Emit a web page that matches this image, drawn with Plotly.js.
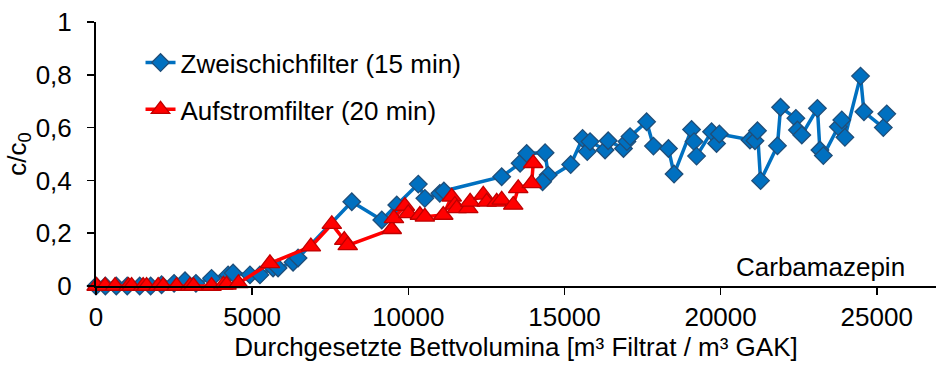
<!DOCTYPE html>
<html>
<head>
<meta charset="utf-8">
<script src="https://cdn.plot.ly/plotly-3.0.1.min.js"></script>
<style>html,body{margin:0;padding:0;background:#fff;}#chart{width:936px;height:368px;}</style>
</head>
<body>
<div id="chart"></div>
<script>
// Zweischichfilter (15 min)
const zweiX = [0, 300, 650, 1000, 1400, 1750, 2100, 2500, 2850, 3200, 3700, 4230, 4390, 4930, 5250, 5670, 5830, 6310, 6470, 8190, 9150, 9630, 10320, 10530, 11010, 11140, 12990, 13580, 13790, 14380, 14480, 14300, 15200, 15580, 15730, 15820, 16300, 16400, 16890, 17000, 17100, 17630, 17850, 18330, 18510, 19070, 19150, 19230, 19710, 19870, 19960, 20940, 21100, 21180, 21280, 21820, 21920, 22410, 22460, 22600, 23100, 23180, 23290, 23770, 23880, 23980, 24480, 24590, 25210, 25320];
const zweiY = [0, 0, 0, 0, 0, 0, 0.005, 0.01, 0.02, 0.01, 0.029, 0.042, 0.049, 0.042, 0.042, 0.068, 0.068, 0.09, 0.106, 0.319, 0.25, 0.307, 0.386, 0.332, 0.351, 0.36, 0.414, 0.465, 0.502, 0.505, 0.42, 0.395, 0.46, 0.559, 0.509, 0.547, 0.515, 0.55, 0.521, 0.547, 0.566, 0.622, 0.53, 0.521, 0.424, 0.593, 0.547, 0.492, 0.584, 0.54, 0.576, 0.553, 0.55, 0.588, 0.399, 0.531, 0.677, 0.635, 0.591, 0.572, 0.673, 0.515, 0.494, 0.603, 0.629, 0.563, 0.795, 0.66, 0.6, 0.652];
// Aufstromfilter (20 min)
const aufX = [20, 290, 610, 1040, 1140, 1510, 1620, 1990, 2150, 2580, 3010, 3120, 3700, 4080, 4180, 4560, 5570, 6880, 7550, 7950, 8060, 9470, 9540, 9890, 10000, 10370, 10530, 11120, 11390, 11490, 11550, 11920, 11980, 12400, 12510, 12830, 12990, 13360, 13520, 13950, 14000];
const aufY = [0, 0, 0, 0, 0, 0, 0, 0, 0, 0, 0, 0, 0, 0.004, 0.004, 0.01, 0.086, 0.149, 0.234, 0.174, 0.154, 0.215, 0.256, 0.303, 0.275, 0.269, 0.262, 0.269, 0.338, 0.307, 0.294, 0.294, 0.319, 0.345, 0.319, 0.319, 0.326, 0.307, 0.37, 0.389, 0.465];
const names = ["Zweischichfilter (15 min)", "Aufstromfilter (20 min)"];
const xTitle = "Durchgesetzte Bettvolumina [m³ Filtrat / m³ GAK]";
const yTitle = "c/c<sub>0</sub>";
const label = "Carbamazepin";

const font = "Liberation Sans, Arial, sans-serif";
const traces = [
  {x: zweiX, y: zweiY, name: names[0], type: "scatter", mode: "lines+markers", legendgroup: "a",
   cliponaxis: false,
   line: {color: "#0070C0", width: 3.5},
   marker: {symbol: "diamond", size: 13.5, color: "#0070C0", line: {color: "#1F4E79", width: 1.3}}},
  {x: aufX, y: aufY, name: names[1], type: "scatter", mode: "lines+markers", legendgroup: "b",
   cliponaxis: false,
   line: {color: "#FF0000", width: 3.5},
   marker: {symbol: "triangle-up", size: 17, color: "#FF0000", line: {color: "#C00000", width: 1.3}}}
];
const layout = {
  width: 936, height: 368,
  margin: {l: 96, r: 0, t: 22, b: 82},
  paper_bgcolor: "#fff", plot_bgcolor: "#fff",
  separators: ", ",
  font: {family: font, size: 26, color: "#000"},
  showlegend: true,
  legend: {x: 0.053, y: 0.935, xanchor: "left", yanchor: "top", bgcolor: "rgba(0,0,0,0)",
           font: {family: font, size: 26, color: "#000"}, tracegroupgap: 10},
  xaxis: {range: [0, 26897], tickvals: [0, 5000, 10000, 15000, 20000, 25000], tickformat: "d",
          showline: true, linecolor: "#000", linewidth: 2, ticks: "outside", ticklen: 7, tickwidth: 1.5, tickcolor: "#000",
          showgrid: false, zeroline: false, ticklabelstandoff: 0,
          tickfont: {family: font, size: 26, color: "#000"},
          title: {text: xTitle, font: {family: font, size: 26, color: "#000"}, standoff: 5}},
  yaxis: {range: [0, 1], tickvals: [0, 0.2, 0.4, 0.6, 0.8, 1], tickformat: ".1~f",
          showline: true, linecolor: "#000", linewidth: 2, ticks: "outside", ticklen: 7, tickwidth: 1.5, tickcolor: "#000",
          showgrid: false, zeroline: false, ticklabelstandoff: 10,
          tickfont: {family: font, size: 26, color: "#000"},
          title: {text: yTitle, font: {family: font, size: 26, color: "#000"}, standoff: 2}},
  annotations: [{text: label, xref: "paper", yref: "paper", x: 0.965, y: 0.072, xanchor: "right", yanchor: "middle",
                 showarrow: false, font: {family: font, size: 26, color: "#000"}}]
};
Plotly.newPlot("chart", traces, layout, {displayModeBar: false, staticPlot: true});
</script>
</body>
</html>
